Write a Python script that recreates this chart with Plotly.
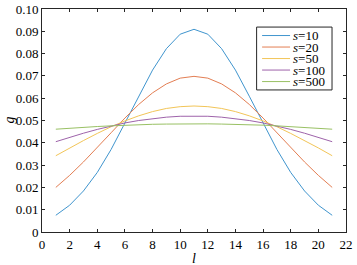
import plotly.graph_objects as go

l_values = list(range(1, 22))
s10 = [0.0075, 0.0120, 0.0184, 0.0267, 0.0370, 0.0487, 0.0609, 0.0726, 0.0822, 0.0887, 0.0909,
       0.0887, 0.0822, 0.0726, 0.0609, 0.0487, 0.0370, 0.0267, 0.0184, 0.0120, 0.0075]
s20 = [0.0200, 0.0254, 0.0314, 0.0378, 0.0445, 0.0511, 0.0572, 0.0624, 0.0664, 0.0690, 0.0698,
       0.0690, 0.0664, 0.0624, 0.0572, 0.0511, 0.0445, 0.0378, 0.0314, 0.0254, 0.0200]
s50 = [0.0342, 0.0377, 0.0410, 0.0442, 0.0472, 0.0498, 0.0521, 0.0540, 0.0554, 0.0562, 0.0565,
       0.0562, 0.0554, 0.0540, 0.0521, 0.0498, 0.0472, 0.0442, 0.0410, 0.0377, 0.0342]
s100 = [0.0405, 0.0425, 0.0443, 0.0460, 0.0475, 0.0489, 0.0500, 0.0509, 0.0515, 0.0519, 0.0520,
        0.0519, 0.0515, 0.0509, 0.0500, 0.0489, 0.0475, 0.0460, 0.0443, 0.0425, 0.0405]
s500 = [0.0461, 0.0466, 0.0470, 0.0473, 0.0476, 0.0479, 0.0481, 0.0483, 0.0484, 0.0485, 0.0485,
        0.0485, 0.0484, 0.0483, 0.0481, 0.0479, 0.0476, 0.0473, 0.0470, 0.0466, 0.0461]

series_names = ["<i>s</i>=10", "<i>s</i>=20", "<i>s</i>=50", "<i>s</i>=100", "<i>s</i>=500"]
series_values = [s10, s20, s50, s100, s500]
colors = ["#4095CE", "#E37E53", "#F2C558", "#9E63AA", "#99C164"]

x_ticks = list(range(0, 23, 2))
y_ticks = [i / 100 for i in range(0, 11)]
y_ticktext = ["0"] + ["%.2f" % v for v in y_ticks[1:]]

font_family = "'Times New Roman', 'Liberation Serif', 'DejaVu Serif', serif"

fig = go.Figure()
for name, vals, c in zip(series_names, series_values, colors):
    fig.add_trace(go.Scatter(x=l_values, y=vals, mode="lines", name=name,
                             line=dict(color=c, width=1), showlegend=False))

# manual legend box
lx0, lx1, ly1, ly0 = 0.706, 0.954, 0.919, 0.637
row_top = 0.881
row_h = 0.0516
shapes = [dict(type="rect", xref="paper", yref="paper", x0=lx0, x1=lx1,
               y0=ly0, y1=ly1, line=dict(color="#262626", width=1),
               fillcolor="white", layer="above")]
annotations = []
for i, (name, c) in enumerate(zip(series_names, colors)):
    yc = row_top - row_h * i
    shapes.append(dict(type="line", xref="paper", yref="paper", x0=0.724, x1=0.816,
                       y0=yc, y1=yc, line=dict(color=c, width=1), layer="above"))
    annotations.append(dict(xref="paper", yref="paper", x=0.822, y=yc, text=name,
                            showarrow=False, xanchor="left", yanchor="middle",
                            borderpad=0,
                            font=dict(family=font_family, size=13, color="black")))

# axis titles as annotations
annotations.append(dict(xref="paper", yref="paper", x=0.5, y=0, yshift=-26, text="<i>l</i>",
                        showarrow=False, xanchor="center", yanchor="middle", borderpad=0,
                        font=dict(family=font_family, size=14, color="black")))
annotations.append(dict(xref="paper", yref="paper", x=0, y=0.5, xshift=-33, text="<i>g</i>",
                        showarrow=False, xanchor="center", yanchor="middle", borderpad=0,
                        textangle=-90,
                        font=dict(family=font_family, size=14, color="black")))

axis_common = dict(showline=True, linecolor="#262626", linewidth=1, mirror="allticks",
                   ticks="inside", ticklen=3, tickcolor="#262626", showgrid=False,
                   zeroline=False, automargin=False,
                   tickfont=dict(family=font_family, size=13, color="black"))

fig.update_layout(
    width=357, height=265,
    font=dict(family=font_family),
    margin=dict(l=42, r=11, t=9, b=33),
    plot_bgcolor="white", paper_bgcolor="white",
    xaxis=dict(range=[0, 22], tickvals=x_ticks, ticktext=[str(v) for v in x_ticks],
               **axis_common),
    yaxis=dict(range=[0, 0.10], tickvals=y_ticks, ticktext=y_ticktext, **axis_common),
    shapes=shapes, annotations=annotations,
)

fig.write_html("out.html", config={"displayModeBar": False},
               post_script="document.body.style.margin='0';")
